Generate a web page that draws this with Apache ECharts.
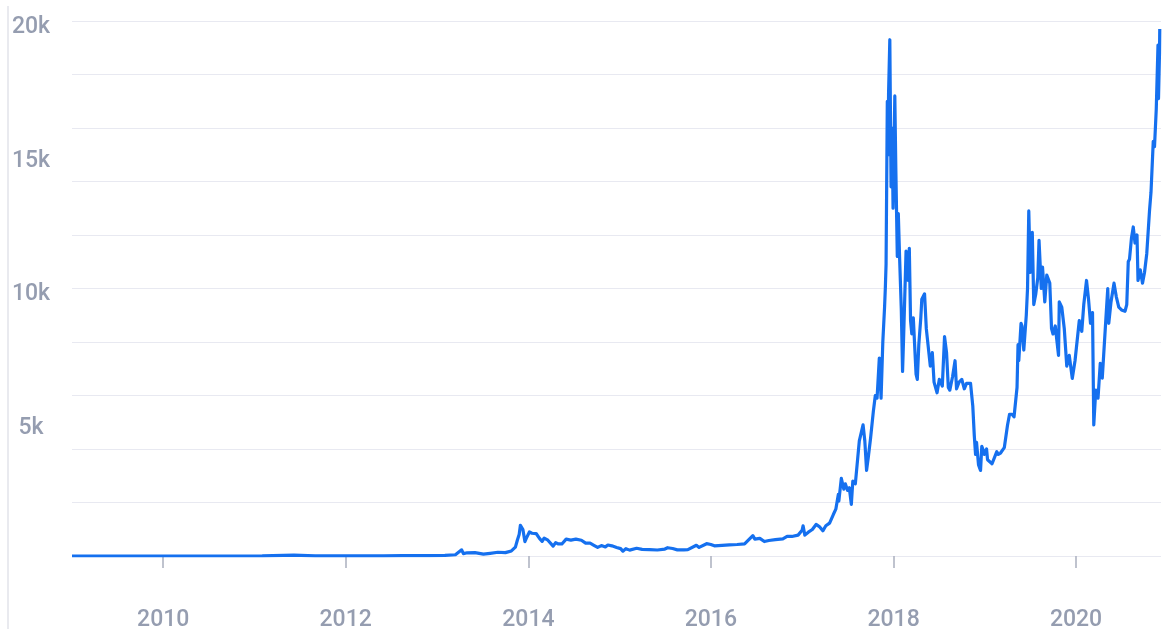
<!DOCTYPE html>
<html>
<head>
<meta charset="utf-8">
<script src="https://cdn.jsdelivr.net/npm/echarts@6/dist/echarts.min.js"></script>
<style>
html,body{margin:0;padding:0;background:#fff;}
#chart{width:1162px;height:629px;}
</style>
</head>
<body>
<div id="chart"></div>
<script>
const dates = [
'2009-01-01','2010-07-18','2011-02-01','2011-06-08','2011-09-01','2011-12-01','2012-06-01','2012-08-15','2012-12-01',
'2013-02-01','2013-03-15','2013-04-09','2013-04-16','2013-05-01','2013-06-01','2013-07-05','2013-08-01','2013-09-01','2013-10-01','2013-10-25',
'2013-11-10','2013-11-18','2013-11-25','2013-11-30','2013-12-05','2013-12-10','2013-12-18','2013-12-24',
'2014-01-05','2014-01-15','2014-02-01','2014-02-15','2014-02-25','2014-03-05','2014-03-20','2014-04-10','2014-04-20','2014-05-01','2014-05-15',
'2014-06-01','2014-06-05','2014-06-20','2014-07-10','2014-08-01','2014-08-18','2014-09-05','2014-09-20','2014-10-05','2014-10-20','2014-11-05','2014-11-15','2014-12-01','2014-12-20',
'2015-01-05','2015-01-14','2015-01-26','2015-02-10','2015-03-10','2015-04-01','2015-05-01','2015-06-01','2015-07-01','2015-07-12','2015-08-01','2015-08-20','2015-09-15','2015-10-01','2015-11-04','2015-11-15','2015-12-15',
'2016-01-01','2016-01-15','2016-02-15','2016-03-15','2016-04-15','2016-05-15','2016-06-17','2016-06-25','2016-07-15','2016-08-02','2016-08-20','2016-09-15','2016-10-15','2016-11-01','2016-11-20','2016-12-15','2016-12-31',
'2017-01-04','2017-01-11','2017-01-25','2017-02-10','2017-02-25','2017-03-10','2017-03-24','2017-04-05','2017-04-20','2017-05-05','2017-05-15','2017-05-25','2017-05-27',
'2017-06-06','2017-06-12','2017-06-16','2017-06-22','2017-07-01','2017-07-08','2017-07-16','2017-07-22','2017-08-01','2017-08-08','2017-08-17','2017-08-24',
'2017-09-01','2017-09-08','2017-09-15','2017-09-22','2017-10-01','2017-10-12','2017-10-20','2017-10-27','2017-11-05','2017-11-12','2017-11-19','2017-11-26','2017-11-29',
'2017-12-02','2017-12-07','2017-12-10','2017-12-12','2017-12-17','2017-12-22','2017-12-26','2017-12-30',
'2018-01-06','2018-01-10','2018-01-16','2018-01-20','2018-01-25','2018-02-01','2018-02-06','2018-02-10','2018-02-20','2018-02-28','2018-03-05','2018-03-10','2018-03-15','2018-03-21',
'2018-04-01','2018-04-06','2018-04-12','2018-04-20','2018-04-24','2018-05-05','2018-05-12','2018-05-20','2018-05-28','2018-06-05','2018-06-12','2018-06-24',
'2018-07-03','2018-07-15','2018-07-24','2018-08-01','2018-08-08','2018-08-14','2018-08-25','2018-09-04','2018-09-10','2018-09-20','2018-10-01','2018-10-11','2018-10-20',
'2018-11-05','2018-11-14','2018-11-20','2018-11-25','2018-11-29','2018-12-07','2018-12-15','2018-12-20','2018-12-24','2018-12-30',
'2019-01-08','2019-01-12','2019-01-20','2019-01-30','2019-02-07','2019-02-18','2019-02-24','2019-03-05','2019-03-20','2019-04-02','2019-04-10','2019-04-20','2019-04-28',
'2019-05-10','2019-05-14','2019-05-17','2019-05-26','2019-05-30','2019-06-06','2019-06-16','2019-06-21','2019-06-26','2019-07-02','2019-07-10','2019-07-16','2019-07-24',
'2019-08-01','2019-08-06','2019-08-15','2019-08-20','2019-08-29','2019-09-06','2019-09-18','2019-09-25','2019-10-01','2019-10-10','2019-10-23','2019-10-26',
'2019-11-05','2019-11-15','2019-11-25','2019-12-05','2019-12-17','2019-12-28',
'2020-01-03','2020-01-14','2020-01-24','2020-02-01','2020-02-12','2020-02-20','2020-02-28','2020-03-07','2020-03-12','2020-03-20','2020-03-29','2020-04-07','2020-04-15','2020-04-29',
'2020-05-07','2020-05-11','2020-05-20','2020-06-01','2020-06-10','2020-06-20','2020-07-01','2020-07-15','2020-07-22','2020-07-28','2020-08-02','2020-08-10','2020-08-17','2020-08-24',
'2020-09-01','2020-09-05','2020-09-14','2020-09-23','2020-10-01','2020-10-10','2020-10-21','2020-10-27','2020-11-05','2020-11-10','2020-11-17','2020-11-24','2020-11-26','2020-11-30','2020-12-01'
];
const prices = [
0,0.08,1,29,8,3,5,13,13,
20,47,230,90,120,128,70,100,140,125,190,
330,600,800,1150,1120,990,540,670,
900,850,840,650,550,670,590,370,500,450,450,
630,660,595,630,590,480,480,400,320,390,340,410,380,320,
275,180,275,220,290,250,235,225,260,310,280,230,230,238,400,320,460,
430,380,400,415,430,455,760,630,660,540,580,610,640,730,730,780,960,
1130,780,890,990,1180,1100,940,1130,1230,1550,1750,2300,2050,
2900,2950,2500,2700,2450,2550,1930,2800,2700,3400,4300,4300,
4900,4300,3200,3700,4400,5400,6000,5900,7400,5900,8000,9300,10000,
10900,17000,15000,17300,19300,13800,16000,13000,
17200,14500,11200,12800,11200,9200,6900,8100,11400,10300,11500,8800,8300,8900,
6800,6600,7900,8900,9600,9800,8500,8500,7100,7600,6500,6100,
6600,6350,8200,7600,6300,6200,6700,7300,6250,6500,6600,6250,6450,
6450,5600,4500,3800,4250,3400,3200,4100,4000,3800,
4000,3600,3550,3450,3400,3900,3800,3850,4050,4900,5300,5300,5200,
6300,7900,7300,8700,8600,7700,9000,10000,12900,10600,12100,9400,9800,
10400,11800,10000,10800,9500,10500,10200,8500,8300,8600,7500,9500,
9300,8500,7100,7500,6640,7300,
7300,8800,8400,9400,10300,9600,8700,9100,4900,6200,5900,7200,6650,8800,
10000,8700,9500,10200,9700,9300,9200,9150,9400,11000,11100,11900,12300,11700,
12000,10300,10700,10200,10600,11300,12900,13600,15500,15300,16700,19100,17100,18800,19700
];
const xTickYears = [2010, 2012, 2014, 2016, 2018, 2020];
const yLabelValues = [5000, 10000, 15000, 20000];

const ts = s => Date.UTC(+s.slice(0,4), +s.slice(5,7) - 1, +s.slice(8,10));
const chart = echarts.init(document.getElementById('chart'));
const seriesData = dates.map((d, i) => [ts(d), prices[i]]);
const tickTs = xTickYears.map(y => Date.UTC(y, 0, 1));
const labelColor = '#959db0';
const fontFamily = 'Roboto, "Noto Sans", sans-serif';
const xMin = Date.UTC(2009, 0, 1), xMax = Date.UTC(2020, 11, 6);

chart.setOption({
  animation: false,
  backgroundColor: '#ffffff',
  grid: [
    { left: 72, right: 1, top: 21, bottom: 73, containLabel: false, outerBoundsMode: 'none' },
    { left: 72, right: 1, top: 27, bottom: 67, containLabel: false, outerBoundsMode: 'none' }
  ],
  graphic: [{
    type: 'line', z: 0,
    shape: { x1: 8, y1: 6, x2: 8, y2: 629 },
    style: { stroke: '#e2e3ea', lineWidth: 1.5 }
  }],
  xAxis: [{
    type: 'value', gridIndex: 0,
    min: xMin, max: xMax,
    offset: 26,
    axisLine: { show: false },
    splitLine: { show: false },
    axisTick: { show: true, customValues: tickTs, length: 12, lineStyle: { color: '#aab0be', width: 1.5 } },
    axisLabel: {
      customValues: tickTs,
      margin: 27,
      color: labelColor,
      fontSize: 23,
      fontWeight: 500,
      fontFamily: fontFamily,
      formatter: v => String(new Date(v).getUTCFullYear())
    }
  }, {
    type: 'value', gridIndex: 1, min: xMin, max: xMax, show: false
  }],
  yAxis: [{
    type: 'value', gridIndex: 0, min: 0, max: 20000, interval: 2000,
    axisLine: { show: false }, axisTick: { show: false }, axisLabel: { show: false },
    splitLine: { show: true, lineStyle: { color: '#e8e9f1', width: 1.2 } }
  }, {
    type: 'value', gridIndex: 1, min: 0, max: 20000, interval: 5000,
    position: 'left', offset: 64,
    axisLine: { show: false }, axisTick: { show: false }, splitLine: { show: false },
    axisLabel: {
      inside: true, align: 'center', margin: 23,
      color: labelColor, fontSize: 23, fontWeight: 500, fontFamily: fontFamily,
      customValues: yLabelValues,
      formatter: v => (v / 1000) + 'k'
    }
  }],
  series: [{
    type: 'line',
    xAxisIndex: 0,
    yAxisIndex: 0,
    data: seriesData,
    showSymbol: false,
    symbol: 'none',
    smooth: false,
    sampling: null,
    lineStyle: { color: '#1570ef', width: 3.2, join: 'round' },
    z: 5
  }]
});
</script>
</body>
</html>
